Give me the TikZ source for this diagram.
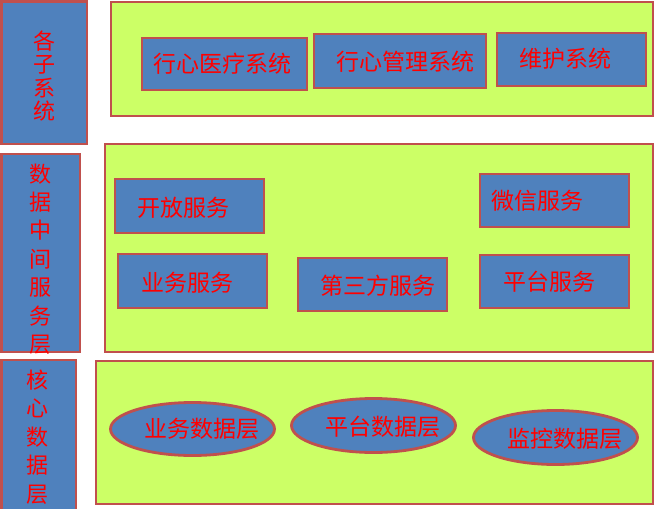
\documentclass[tikz,border=0pt]{standalone}
\usepackage{fontspec}
\newfontfamily\cjk{Noto Sans CJK SC}
\usetikzlibrary{shapes.geometric}
\definecolor{boxblue}{HTML}{4F81BD}
\definecolor{boxred}{HTML}{C0504D}
\definecolor{panelgreen}{HTML}{CCFF66}
\definecolor{txtred}{HTML}{FF0000}
\begin{document}
\begin{tikzpicture}[x=1pt,y=-1pt,
  panel/.style={draw=boxred,fill=panelgreen,line width=2.8pt},
  bluebox/.style={draw=boxred,fill=boxblue,line width=2.8pt},
  lbl/.style={text=txtred,font=\cjk\fontsize{23}{28}\selectfont,inner sep=0pt},
  vlbl/.style={text=txtred,font=\cjk\fontsize{22}{28.4}\selectfont,inner sep=0pt,align=center}]
\useasboundingbox (0,0) rectangle (655,508);
% left column
\draw[bluebox] (1.5,1.5) rectangle (87,144);
\draw[bluebox] (1.5,154) rectangle (80,352);
\draw[bluebox] (1.5,360) rectangle (76,510);
\node[vlbl,font=\cjk\fontsize{22}{23.5}\selectfont] (t1) at (44,76) {各\\子\\系\\统};
\node[vlbl] (t2) at (40,259) {数\\据\\中\\间\\服\\务\\层};
\node[vlbl] (t3) at (37,437) {核\\心\\数\\据\\层};
% panels
\draw[panel] (111,2) rectangle (653,116);
\draw[panel] (105,144) rectangle (653,352);
\draw[panel] (96,361) rectangle (653,504);
% top boxes
\draw[bluebox] (142,38) rectangle (307,90);
\node[lbl] (a1) at (222,64) {行心医疗系统};
\draw[bluebox] (314,34) rectangle (486,88);
\node[lbl] (a2) at (405,62) {行心管理系统};
\draw[bluebox] (497,33) rectangle (646,86);
\node[lbl] (a3) at (565,59) {维护系统};
% middle boxes
\draw[bluebox] (115,179) rectangle (264,233);
\node[lbl] (b1) at (183,208) {开放服务};
\draw[bluebox] (118,254) rectangle (267,308);
\node[lbl] (b2) at (187,283) {业务服务};
\draw[bluebox] (298,258) rectangle (447,311);
\node[lbl] (b3) at (378,286) {第三方服务};
\draw[bluebox] (480,174) rectangle (629,227);
\node[lbl] (b4) at (537,201) {微信服务};
\draw[bluebox] (480,255) rectangle (629,308);
\node[lbl] (b5) at (549,282) {平台服务};
% bottom ellipses
\draw[bluebox] (192.5,429) ellipse [x radius=82,y radius=26.5];
\node[lbl] (e1) at (202,429) {业务数据层};
\draw[bluebox] (373.5,425.5) ellipse [x radius=82,y radius=27];
\node[lbl] (e2) at (383,427) {平台数据层};
\draw[bluebox] (555.5,437.5) ellipse [x radius=82,y radius=27];
\node[lbl] (e3) at (565,439) {监控数据层};
\end{tikzpicture}
\end{document}
